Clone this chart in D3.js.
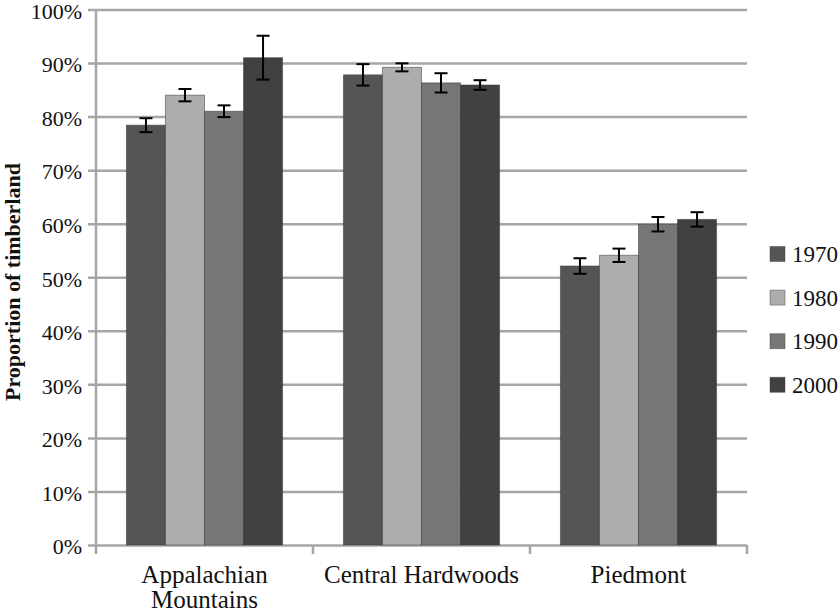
<!DOCTYPE html>
<html>
<head>
<meta charset="utf-8">
<script src="https://cdn.jsdelivr.net/npm/d3@7"></script>
<style>
  body { margin: 0; background: #fff; }
</style>
</head>
<body>
<div id="chart"></div>
<script>
// Data
const regions = ["Appalachian Mountains", "Central Hardwoods", "Piedmont"];
const regionLines = [["Appalachian", "Mountains"], ["Central Hardwoods"], ["Piedmont"]];
const years = ["1970", "1980", "1990", "2000"];
const values = {
  "1970": [78.4, 87.8, 52.1],
  "1980": [84.0, 89.2, 54.1],
  "1990": [81.0, 86.3, 59.9],
  "2000": [91.0, 85.9, 60.8]
};
const errors = {
  "1970": [1.3, 2.0, 1.45],
  "1980": [1.15, 0.75, 1.25],
  "1990": [1.1, 1.8, 1.35],
  "2000": [4.1, 0.9, 1.35]
};
const yTicks = [0, 10, 20, 30, 40, 50, 60, 70, 80, 90, 100];

const width = 839, height = 615;
const plot = {left: 96, right: 747, top: 9.5, bottom: 545};
const serif = "Liberation Serif";

const svg = d3.select("#chart").append("svg")
    .attr("width", width)
    .attr("height", height);

const x0 = d3.scaleBand()
    .domain(regions)
    .range([plot.left, plot.right])
    .paddingInner(0)
    .paddingOuter(0);

const x1 = d3.scaleBand()
    .domain(years)
    .range([0, x0.bandwidth()])
    .paddingInner(0)
    .paddingOuter(0.78);

const y = d3.scaleLinear()
    .domain([0, 100])
    .range([plot.bottom, plot.top]);

const color = d3.scaleOrdinal()
    .domain(years)
    .range(["#555555", "#adadad", "#767676", "#414141"]);

// Gridlines + left tick labels
const yAxis = svg.append("g")
    .attr("transform", `translate(${plot.left},0)`)
    .call(d3.axisLeft(y).tickValues(yTicks).tickFormat(d => d + "%")
        .tickSize(-(plot.right - plot.left)).tickPadding(14));
yAxis.attr("font-family", serif).attr("font-size", 22);
yAxis.select(".domain").remove();
yAxis.selectAll(".tick line")
    .attr("x1", -8)
    .attr("stroke", "#a6a6a6")
    .attr("stroke-width", 2.5);
yAxis.selectAll(".tick text")
    .attr("dy", "0.4em")
    .attr("fill", "#111");

// left axis line
svg.append("line")
    .attr("x1", plot.left).attr("x2", plot.left)
    .attr("y1", plot.top).attr("y2", plot.bottom)
    .attr("stroke", "#a6a6a6")
    .attr("stroke-width", 2.5);

// category tick marks below baseline
const catEdges = regions.map(r => x0(r)).concat([plot.right]);
svg.selectAll(".cattick")
    .data(catEdges)
    .enter().append("line")
      .attr("x1", d => d).attr("x2", d => d)
      .attr("y1", plot.bottom).attr("y2", plot.bottom + 9)
      .attr("stroke", "#a6a6a6")
      .attr("stroke-width", 2.5);

// Bars
const rows = [];
regions.forEach((r, i) => {
  years.forEach(yr => {
    rows.push({region: r, year: yr, value: values[yr][i], err: errors[yr][i]});
  });
});

svg.selectAll(".bar")
    .data(rows)
    .enter().append("rect")
      .attr("class", "bar")
      .attr("x", d => x0(d.region) + x1(d.year))
      .attr("y", d => y(d.value))
      .attr("width", x1.bandwidth())
      .attr("height", d => y(0) - y(d.value))
      .attr("fill", d => color(d.year))
      .attr("stroke", "#333")
      .attr("stroke-opacity", 0.5)
      .attr("stroke-width", 1);

// Error bars
const cap = 6.5;
const eb = svg.selectAll(".err")
    .data(rows)
    .enter().append("g")
      .attr("class", "err")
      .attr("transform", d => `translate(${x0(d.region) + x1(d.year) + x1.bandwidth() / 2},0)`);
eb.append("line")
    .attr("y1", d => y(d.value - d.err)).attr("y2", d => y(d.value + d.err))
    .attr("stroke", "#000").attr("stroke-width", 2);
eb.append("line")
    .attr("x1", -cap).attr("x2", cap)
    .attr("y1", d => y(d.value + d.err)).attr("y2", d => y(d.value + d.err))
    .attr("stroke", "#000").attr("stroke-width", 2);
eb.append("line")
    .attr("x1", -cap).attr("x2", cap)
    .attr("y1", d => y(d.value - d.err)).attr("y2", d => y(d.value - d.err))
    .attr("stroke", "#000").attr("stroke-width", 2);

// Category labels
regions.forEach((r, i) => {
  const cx = x0(r) + x0.bandwidth() / 2;
  const t = svg.append("text")
      .attr("x", cx)
      .attr("y", 583)
      .attr("text-anchor", "middle")
      .attr("fill", "#111")
      .attr("font-family", serif)
      .attr("font-size", 25);
  regionLines[i].forEach((ln, j) => {
    t.append("tspan")
        .attr("x", cx)
        .attr("dy", j === 0 ? 0 : 25)
        .text(ln);
  });
});

// Y axis title
svg.append("text")
    .attr("transform", "rotate(-90)")
    .attr("x", -282)
    .attr("y", 20)
    .attr("text-anchor", "middle")
    .attr("fill", "#111")
    .attr("font-family", serif)
    .attr("font-size", 22)
    .attr("font-weight", "bold")
    .text("Proportion of timberland");

// Legend
const legend = svg.append("g")
    .attr("transform", "translate(770, 254)");
years.forEach((yr, i) => {
  legend.append("rect")
      .attr("x", 0)
      .attr("y", i * 43.6 - 7.5)
      .attr("width", 15)
      .attr("height", 15)
      .attr("fill", color(yr))
      .attr("stroke", "#333")
      .attr("stroke-opacity", 0.4);
  legend.append("text")
      .attr("x", 22)
      .attr("y", i * 43.6 + 8)
      .attr("fill", "#111")
      .attr("font-family", serif)
      .attr("font-size", 23)
      .text(yr);
});
</script>
</body>
</html>
